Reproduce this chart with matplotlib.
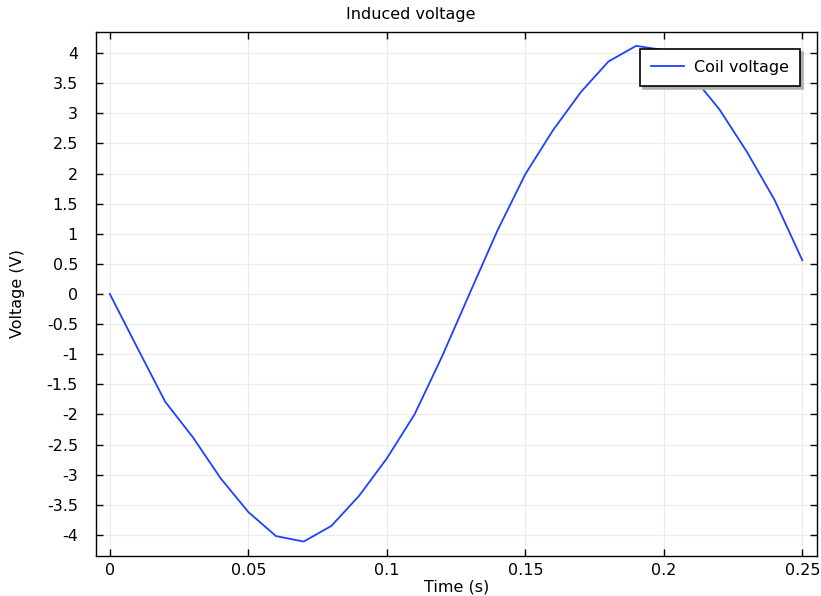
import matplotlib
matplotlib.use("Agg")
import matplotlib.pyplot as plt

time_s = [0.00, 0.01, 0.02, 0.03, 0.04, 0.05, 0.06, 0.07, 0.08, 0.09,
          0.10, 0.11, 0.12, 0.13, 0.14, 0.15, 0.16, 0.17, 0.18, 0.19,
          0.20, 0.21, 0.22, 0.23, 0.24, 0.25]
coil_voltage = [0.00, -0.90, -1.79, -2.38, -3.06, -3.62, -4.02, -4.11, -3.85, -3.35,
                -2.73, -2.00, -1.03, 0.02, 1.06, 1.99, 2.72, 3.35, 3.86, 4.12,
                4.05, 3.63, 3.07, 2.36, 1.56, 0.56]
x_ticks = [0, 0.05, 0.1, 0.15, 0.2, 0.25]
x_tick_labels = ["0", "0.05", "0.1", "0.15", "0.2", "0.25"]
y_ticks = [-4, -3.5, -3, -2.5, -2, -1.5, -1, -0.5, 0, 0.5, 1, 1.5, 2, 2.5, 3, 3.5, 4]
y_tick_labels = ["-4", "-3.5", "-3", "-2.5", "-2", "-1.5", "-1", "-0.5", "0",
                 "0.5", "1", "1.5", "2", "2.5", "3", "3.5", "4"]

plt.rcParams['font.family'] = ['DejaVu Sans']
plt.rcParams['axes.unicode_minus'] = False

fig = plt.figure(figsize=(8.21, 5.96), dpi=100)
ax = fig.add_axes([96/821, 1 - 556/596, (817-96)/821, (556-32)/596])

ax.plot(time_s, coil_voltage, color='#2040ff', lw=1.3, label='Coil voltage')

ax.set_xlim(-0.005, 0.2553)
ax.set_ylim(-4.35, 4.35)
ax.set_xticks(x_ticks)
ax.set_xticklabels(x_tick_labels)
ax.set_yticks(y_ticks)
ax.set_yticklabels(y_tick_labels)
ax.tick_params(direction='in', top=True, right=True, length=5, width=1,
               labelsize=11.5)
ax.tick_params(axis='x', pad=5)
ax.tick_params(axis='y', pad=13)
ax.grid(True, color='#ebebeb', lw=0.8)
ax.set_axisbelow(True)
for s in ax.spines.values():
    s.set_linewidth(1.0)

fig.text(0.5, 1 - 14/596, 'Induced voltage', fontsize=11.5, ha='center', va='center')
ax.set_xlabel('Time (s)', fontsize=11.5)
ax.xaxis.set_label_coords(0.5, -(587 - 556) / 524)
ax.xaxis.label.set_va('center')
ax.set_ylabel('Voltage (V)', fontsize=11.5)
ax.yaxis.set_label_coords(-(96 - 18) / 721, 0.5)
ax.yaxis.label.set_va('center')

leg = ax.legend(loc='upper right', bbox_to_anchor=(0.9875, 0.983), fontsize=11.5,
                fancybox=False, shadow={'color': '#b0b0b0', 'alpha': 1},
                edgecolor='black', framealpha=1, borderpad=0.7, handlelength=2.05,
                handletextpad=0.6)
leg.get_frame().set_linewidth(1.2)

fig.savefig('out.png', dpi=100)
